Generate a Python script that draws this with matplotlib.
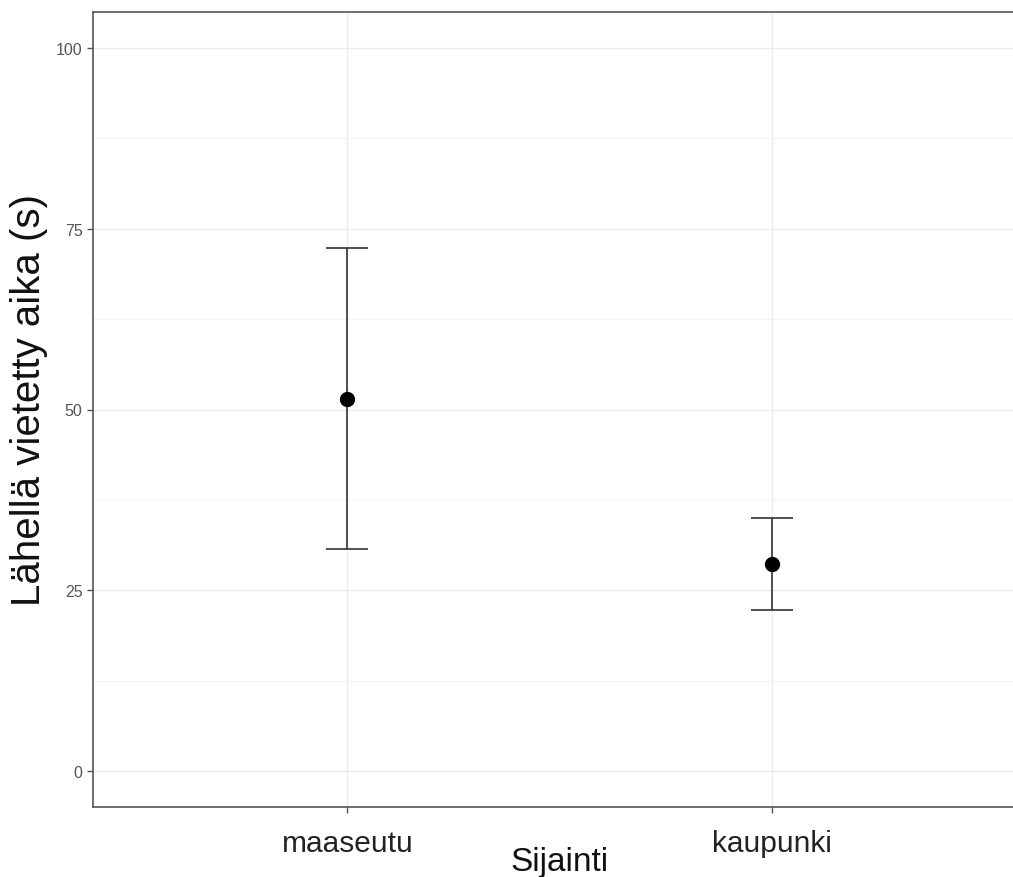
import matplotlib.pyplot as plt
import numpy as np

plt.rcParams['font.family'] = ['Liberation Sans', 'DejaVu Sans']

sijainti = ['maaseutu', 'kaupunki']
keskiarvo = [51.5, 28.6]
ala = [30.7, 22.2]
yla = [72.3, 35.0]
y_ticks = [0, 25, 50, 75, 100]

fig = plt.figure(figsize=(10.13, 8.78), dpi=100)
ax = fig.add_axes([93 / 1013, 70 / 878, 933 / 1013, 795 / 878])

x = np.arange(len(sijainti))
mean = np.array(keskiarvo)
yerr = np.vstack([mean - np.array(ala), np.array(yla) - mean])

ax.errorbar(x, mean, yerr=yerr, fmt='none', ecolor='#333333', elinewidth=1.2,
            capsize=15, capthick=1.2, zorder=3)
ax.plot(x, mean, 'o', color='black', markersize=10, zorder=4)

ax.set_xlim(-0.6, 1.6)
ax.set_ylim(-5, 105)
ax.set_xticks(x)
ax.set_xticklabels(sijainti, fontsize=21.5, color='#222222')
ax.set_yticks(y_ticks)
ax.set_yticklabels([str(v) for v in y_ticks], fontsize=11.5, color='#555555')
ax.set_yticks([12.5, 37.5, 62.5, 87.5], minor=True)
ax.tick_params(axis='both', which='major', length=4, color='#555555', width=1)
ax.tick_params(axis='y', which='minor', length=0)
ax.tick_params(axis='x', pad=12)

ax.grid(which='major', color='#ebebeb', linewidth=1)
ax.grid(which='minor', axis='y', color='#f3f3f3', linewidth=0.8)
ax.set_axisbelow(True)

for s in ax.spines.values():
    s.set_color('#555555')
    s.set_linewidth(1.2)

ax.set_xlabel('Sijainti', fontsize=24, color='#111111', labelpad=-8)
ax.set_ylabel('Lähellä vietetty aika (s)', fontsize=29, color='#111111', labelpad=6)
ax.yaxis.label.set_y(0.513)

fig.savefig('out.png', dpi=100)
